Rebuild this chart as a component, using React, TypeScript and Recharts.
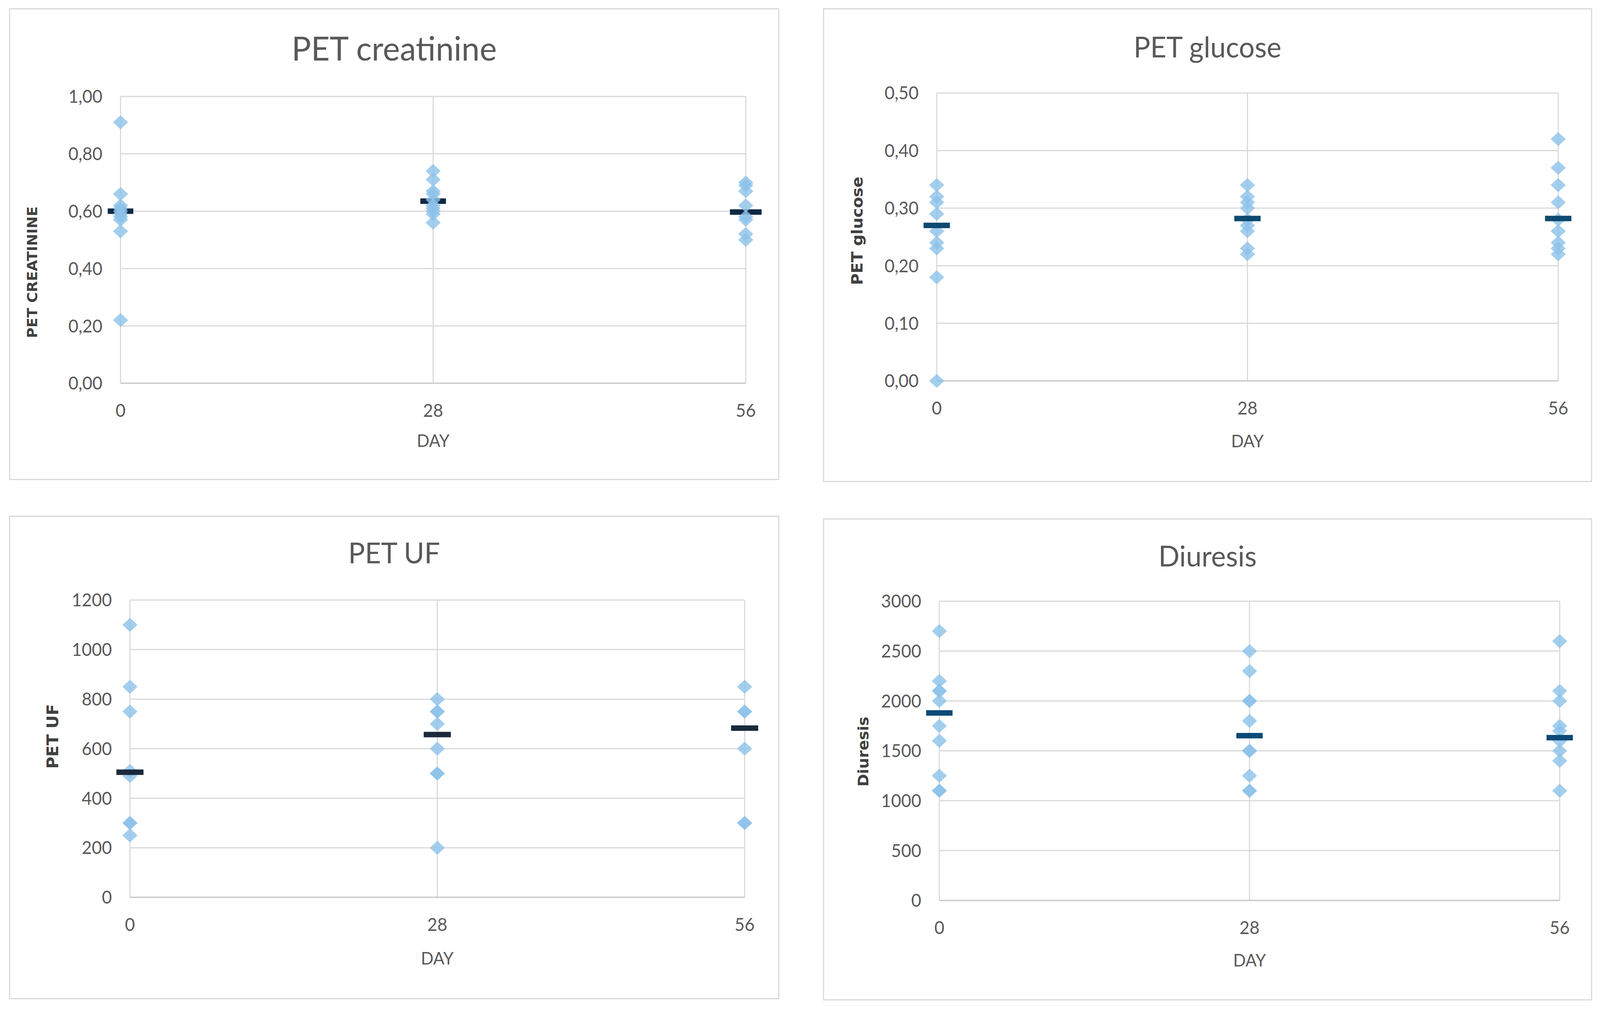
import React from "react";
import { ScatterChart, Scatter, XAxis, YAxis, CartesianGrid } from "recharts";

// x positions (study day)
const days = [0, 28, 56];

// PET creatinine
const creatinineDay0 = [0.91, 0.66, 0.62, 0.61, 0.6, 0.59, 0.58, 0.57, 0.53, 0.22];
const creatinineDay28 = [0.74, 0.71, 0.67, 0.66, 0.64, 0.62, 0.61, 0.6, 0.59, 0.56];
const creatinineDay56 = [0.7, 0.69, 0.67, 0.62, 0.58, 0.57, 0.52, 0.5];
const creatinineMean = [0.6, 0.635, 0.597];
const creatinineTicks = [0, 0.2, 0.4, 0.6, 0.8, 1.0];

// PET glucose
const glucoseDay0 = [0.34, 0.32, 0.31, 0.29, 0.26, 0.24, 0.23, 0.18, 0.0];
const glucoseDay28 = [0.34, 0.32, 0.31, 0.3, 0.28, 0.27, 0.26, 0.23, 0.22];
const glucoseDay56 = [0.42, 0.37, 0.34, 0.31, 0.28, 0.26, 0.24, 0.23, 0.22];
const glucoseMean = [0.27, 0.282, 0.282];
const glucoseTicks = [0, 0.1, 0.2, 0.3, 0.4, 0.5];

// PET UF
const ufDay0 = [1100, 850, 750, 510, 490, 300, 300, 250];
const ufDay28 = [800, 750, 750, 700, 600, 500, 500, 200];
const ufDay56 = [850, 750, 750, 600, 300, 300];
const ufMean = [505, 657, 683];
const ufTicks = [0, 200, 400, 600, 800, 1000, 1200];

// Diuresis
const diuresisDay0 = [2700, 2200, 2100, 2100, 2000, 1750, 1600, 1250, 1100, 1100];
const diuresisDay28 = [2500, 2300, 2000, 2000, 1800, 1500, 1500, 1250, 1100, 1100];
const diuresisDay56 = [2600, 2100, 2000, 1750, 1700, 1600, 1500, 1400, 1100];
const diuresisMean = [1880, 1652, 1632];
const diuresisTicks = [0, 500, 1000, 1500, 2000, 2500, 3000];

const comma2 = (v: number) => v.toFixed(2).replace(".", ",");
const plain = (v: number) => String(v);

const GRID = "#d9d9d9";
const TEXT = "#595959";

type Box = { left: number; top: number; width: number; height: number };
type Plot = { left: number; right: number; top: number; bottom: number };

type PanelProps = {
  box: Box;
  plot: Plot;
  title: string;
  titleSize: number;
  titleY: number;
  yLabel: string;
  yLabelX: number;
  yLabelY: number;
  yLabelSize: number;
  dayY: number;
  groups: number[][];
  means: number[];
  ticks: number[];
  format: (v: number) => string;
  meanColor: string;
  dashWidths: number[];
  meanBehind?: boolean;
};

const Diamond = (props: any) => {
  const { cx, cy } = props;
  const rx = 20;
  const ry = 18;
  return (
    <path
      d={`M${cx},${cy - ry}L${cx + rx},${cy}L${cx},${cy + ry}L${cx - rx},${cy}Z`}
      fill="#8cc2ea"
      fillOpacity={0.8}
    />
  );
};

function Panel(p: PanelProps) {
  const { box, plot } = p;
  const yAxisWidth = 200;
  const xAxisHeight = 100;
  const margin = {
    left: plot.left - box.left - yAxisWidth,
    right: box.left + box.width - plot.right,
    top: plot.top - box.top,
    bottom: box.top + box.height - plot.bottom - xAxisHeight,
  };

  const points = p.groups.flatMap((vals, i) =>
    vals.map((v) => ({ day: days[i], value: v }))
  );
  const means = days.map((d, i) => ({ day: d, value: p.means[i] }));

  const MeanDash = (s: any) => {
    const w = p.dashWidths[s.index] ?? 70;
    return <rect x={s.cx - w / 2} y={s.cy - 7} width={w} height={14} fill={p.meanColor} />;
  };

  const pointSeries = (
    <Scatter key="pts" data={points} shape={Diamond} isAnimationActive={false} />
  );
  const meanSeries = (
    <Scatter key="mean" data={means} shape={MeanDash} isAnimationActive={false} />
  );

  const tickStyle = { fill: TEXT, fontSize: 46, fontFamily: "Lato" };

  return (
    <>
      <div
        style={{
          position: "absolute",
          left: box.left,
          top: box.top,
          width: box.width,
          height: box.height,
          border: `3px solid ${GRID}`,
          boxSizing: "border-box",
        }}
      />
      <div style={{ position: "absolute", left: box.left, top: box.top }}>
        <ScatterChart width={box.width} height={box.height} margin={margin}>
          <CartesianGrid stroke={GRID} strokeWidth={3} />
          <XAxis
            type="number"
            dataKey="day"
            domain={[0, 56]}
            ticks={days}
            interval={0}
            height={xAxisHeight}
            tickLine={false}
            tickSize={0}
            tickMargin={53}
            axisLine={{ stroke: "#c8c8c8", strokeWidth: 3 }}
            tick={tickStyle}
          />
          <YAxis
            type="number"
            dataKey="value"
            domain={[p.ticks[0], p.ticks[p.ticks.length - 1]]}
            ticks={p.ticks}
            interval={0}
            width={yAxisWidth}
            axisLine={false}
            tickLine={false}
            tickSize={0}
            tickMargin={48}
            tickFormatter={p.format}
            tick={tickStyle}
          />
          {p.meanBehind ? [meanSeries, pointSeries] : [pointSeries, meanSeries]}
        </ScatterChart>
      </div>
      <div
        style={{
          position: "absolute",
          left: box.left,
          width: box.width,
          top: p.titleY - 60,
          height: 120,
          lineHeight: "120px",
          textAlign: "center",
          fontFamily: "Lato",
          fontSize: p.titleSize,
          color: TEXT,
          whiteSpace: "nowrap",
        }}
      >
        {p.title}
      </div>
      <div
        style={{
          position: "absolute",
          left: p.yLabelX - 300,
          top: p.yLabelY - 30,
          width: 600,
          height: 60,
          lineHeight: "60px",
          textAlign: "center",
          transform: "rotate(-90deg)",
          fontFamily: "DejaVu Sans",
          fontWeight: "bold",
          fontSize: p.yLabelSize,
          color: "#404040",
          whiteSpace: "nowrap",
        }}
      >
        {p.yLabel}
      </div>
      <div
        style={{
          position: "absolute",
          left: (plot.left + plot.right) / 2 - 200,
          width: 400,
          top: p.dayY - 40,
          height: 80,
          lineHeight: "80px",
          textAlign: "center",
          fontFamily: "Lato",
          fontSize: 44,
          color: TEXT,
        }}
      >
        DAY
      </div>
    </>
  );
}

export default function App() {
  // the page is laid out on a 4248-wide grid; squeeze it if the viewport is narrower
  const vw = typeof window !== "undefined" && window.innerWidth ? window.innerWidth : 4248;
  const sx = Math.min(1, vw / 4248);
  return (
    <div
      style={{
        position: "absolute",
        left: 0,
        top: 0,
        width: 4248,
        height: 2588,
        background: "#ffffff",
        transform: `scaleX(${sx})`,
        transformOrigin: "0 0",
      }}
    >
      <Panel
        box={{ left: 24, top: 21, width: 2045, height: 1208 }}
        plot={{ left: 320, right: 1980, top: 247, bottom: 981 }}
        title="PET creatinine"
        titleSize={86}
        titleY={122}
        yLabel="PET CREATININE"
        yLabelX={87}
        yLabelY={697}
        yLabelSize={37}
        dayY={1127}
        groups={[creatinineDay0, creatinineDay28, creatinineDay56]}
        means={creatinineMean}
        ticks={creatinineTicks}
        format={comma2}
        meanColor="#0f2845"
        dashWidths={[68, 68, 84]}
        meanBehind
      />
      <Panel
        box={{ left: 2185, top: 21, width: 2042, height: 1213 }}
        plot={{ left: 2487, right: 4137, top: 238, bottom: 975 }}
        title="PET glucose"
        titleSize={74}
        titleY={119}
        yLabel="PET glucose"
        yLabelX={2276}
        yLabelY={591}
        yLabelSize={41}
        dayY={1128}
        groups={[glucoseDay0, glucoseDay28, glucoseDay56]}
        means={glucoseMean}
        ticks={glucoseTicks}
        format={comma2}
        meanColor="#0d4a6f"
        dashWidths={[70, 70, 70]}
      />
      <Panel
        box={{ left: 24, top: 1320, width: 2045, height: 1238 }}
        plot={{ left: 345, right: 1977, top: 1536, bottom: 2297 }}
        title="PET UF"
        titleSize={74}
        titleY={1414}
        yLabel="PET UF"
        yLabelX={141}
        yLabelY={1885}
        yLabelSize={42}
        dayY={2452}
        groups={[ufDay0, ufDay28, ufDay56]}
        means={ufMean}
        ticks={ufTicks}
        format={plain}
        meanColor="#1a2a3c"
        dashWidths={[72, 72, 72]}
      />
      <Panel
        box={{ left: 2185, top: 1327, width: 2042, height: 1234 }}
        plot={{ left: 2494, right: 4141, top: 1539, bottom: 2305 }}
        title="Diuresis"
        titleSize={74}
        titleY={1422}
        yLabel="Diuresis"
        yLabelX={2292}
        yLabelY={1924}
        yLabelSize={39}
        dayY={2457}
        groups={[diuresisDay0, diuresisDay28, diuresisDay56]}
        means={diuresisMean}
        ticks={diuresisTicks}
        format={plain}
        meanColor="#0b4a78"
        dashWidths={[70, 70, 70]}
      />
    </div>
  );
}
